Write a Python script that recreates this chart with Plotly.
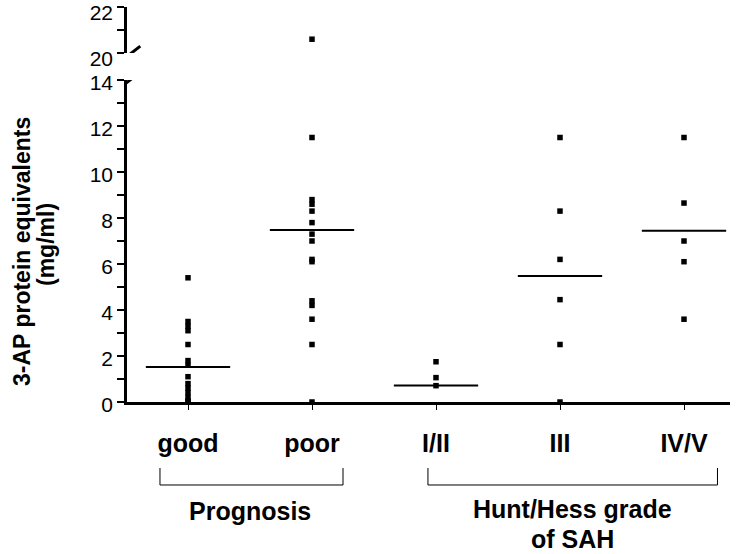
import plotly.graph_objects as go

# ---- data ----
categories = ["good", "poor", "I/II", "III", "IV/V"]
good_vals = [5.4, 3.5, 3.3, 3.1, 2.5, 1.8, 1.6, 1.1, 0.8, 0.6, 0.4, 0.2, 0.05, 0.0]
poor_vals = [20.6, 11.5, 8.8, 8.6, 8.3, 7.8, 7.3, 7.0, 6.2, 6.1, 4.4, 4.2, 3.6, 2.5, 0.0]
grade12_vals = [1.75, 1.06, 0.71]
grade3_vals = [11.5, 8.3, 6.2, 4.45, 2.5, 0.0]
grade45_vals = [11.5, 8.65, 7.0, 6.1, 3.6]
group_values = [good_vals, poor_vals, grade12_vals, grade3_vals, grade45_vals]
mean_vals = [1.52, 7.48, 0.72, 5.48, 7.45]
lower_ticks = list(range(0, 15))
upper_ticks = [20, 21, 22]
group_titles = ["Prognosis", "Hunt/Hess grade", "of SAH"]
y_title = ["3-AP protein equivalents", "(mg/ml)"]

FONT = "Arial, Liberation Sans, sans-serif"
BREAK = 20  # values >= this go on the upper axis segment

fig = go.Figure()

# points
for i, vals in enumerate(group_values):
    lo = [v for v in vals if v < BREAK]
    hi = [v for v in vals if v >= BREAK]
    fig.add_trace(go.Scatter(x=[i] * len(lo), y=lo, mode="markers",
                             marker=dict(symbol="square", size=5.5, color="black"),
                             showlegend=False, cliponaxis=False, xaxis="x", yaxis="y"))
    if hi:
        fig.add_trace(go.Scatter(x=[i] * len(hi), y=hi, mode="markers",
                                 marker=dict(symbol="square", size=5.5, color="black"),
                                 showlegend=False, cliponaxis=False, xaxis="x", yaxis="y2"))

# mean lines
half = 0.34
for i, m in enumerate(mean_vals):
    fig.add_trace(go.Scatter(x=[i - half, i + half], y=[m, m], mode="lines",
                             line=dict(color="black", width=2),
                             showlegend=False, xaxis="x", yaxis="y"))

W, H = 745, 554
def py(p):
    return 1 - p / H

fig.update_layout(
    width=W, height=H,
    margin=dict(l=0, r=0, t=0, b=0, autoexpand=False),
    paper_bgcolor="white", plot_bgcolor="white",
    font=dict(family=FONT, size=20, color="black"),
    showlegend=False,
    xaxis=dict(
        domain=[127 / W, 730 / W], range=[-0.492, 4.371],
        tickmode="array", tickvals=list(range(len(categories))),
        ticktext=["<b>%s</b>" % c for c in categories],
        tickfont=dict(size=25, family=FONT),
        showline=True, linecolor="black", linewidth=2.5,
        ticks="outside", ticklen=5, tickwidth=1, tickcolor="black",
        ticklabelstandoff=12, automargin=False,
        showgrid=False, zeroline=False, anchor="y",
    ),
    yaxis=dict(
        domain=[py(402), py(80)], range=[0, 14],
        tickmode="array", tickvals=lower_ticks,
        ticktext=[str(t) if t % 2 == 0 else "" for t in lower_ticks],
        tickfont=dict(size=21, family=FONT),
        showline=True, linecolor="black", linewidth=2.5,
        ticks="outside", ticklen=7, tickwidth=1.5, tickcolor="black",
        ticklabelshift=3, ticklabeloverflow="allow",
        showgrid=False, zeroline=False, anchor="x", automargin=False,
    ),
    yaxis2=dict(
        domain=[py(53), py(7)], range=[20, 22],
        tickmode="array", tickvals=upper_ticks,
        ticktext=[str(t) if t % 2 == 0 else "" for t in upper_ticks],
        tickfont=dict(size=21, family=FONT),
        showline=True, linecolor="black", linewidth=2.5,
        ticks="outside", ticklen=7, tickwidth=1.5, tickcolor="black",
        ticklabelshift=6, ticklabeloverflow="allow",
        showgrid=False, zeroline=False, anchor="x", automargin=False,
    ),
)

# axis break marks
fig.add_shape(type="line", xref="x", yref="y2", x0=-0.55, x1=-0.385, y0=19.6, y1=20.3,
              line=dict(color="black", width=3))
fig.add_shape(type="line", xref="x", yref="y", x0=-0.55, x1=-0.385, y0=13.65, y1=14.35,
              line=dict(color="black", width=3))

# group brackets
def bracket(x0, x1):
    fig.add_shape(type="path", xref="x", yref="paper",
                  path="M %f,%f L %f,%f L %f,%f L %f,%f" % (x0, py(468), x0, py(485), x1, py(485), x1, py(468)),
                  line=dict(color="black", width=1))
bracket(-0.226, 1.25)
bracket(1.935, 4.27)

fig.add_annotation(x=0.5, y=py(511), xref="x", yref="paper", text="<b>%s</b>" % group_titles[0],
                   showarrow=False, xanchor="center", yanchor="middle", font=dict(size=25, family=FONT))
fig.add_annotation(x=3.1, y=py(509), xref="x", yref="paper", text="<b>%s</b>" % group_titles[1],
                   showarrow=False, xanchor="center", yanchor="middle", font=dict(size=25, family=FONT))
fig.add_annotation(x=3.1, y=py(539), xref="x", yref="paper", text="<b>%s</b>" % group_titles[2],
                   showarrow=False, xanchor="center", yanchor="middle", font=dict(size=25, family=FONT))

# y title
fig.add_annotation(x=22 / W, y=py(252), xref="paper", yref="paper",
                   text="<b>%s</b>" % y_title[0], textangle=-90, xanchor="center", yanchor="middle",
                   showarrow=False, font=dict(size=23, family=FONT))
fig.add_annotation(x=46 / W, y=py(245), xref="paper", yref="paper",
                   text="<b>%s</b>" % y_title[1], textangle=-90, xanchor="center", yanchor="middle",
                   showarrow=False, font=dict(size=23, family=FONT))

fig.write_html("out.html", config={"displayModeBar": False},
               post_script="document.body.style.margin='0px';")
